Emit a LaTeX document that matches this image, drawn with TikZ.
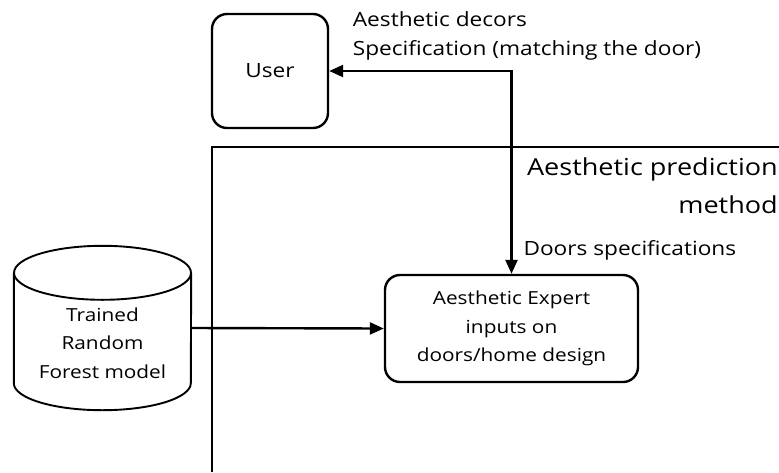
\documentclass[tikz,border=0pt]{standalone}
\usepackage{fontspec}
\setmainfont{Open Sans}[FakeStretch=1.156]
\usetikzlibrary{arrows.meta}
\begin{document}
\begin{tikzpicture}[x=1pt,y=-1pt,
  line/.style={line width=2.4pt},
  tipped/.style={{Triangle[length=14pt,width=12pt]}-{Triangle[length=14pt,width=12pt]}},
  arrowto/.style={-{Triangle[length=14pt,width=12pt]}},
  box/.style={draw, line width=2.4pt, rounded corners=15pt, inner sep=0pt, align=center},
  lbl/.style={inner sep=0pt, font=\fontsize{19.6}{28}\selectfont},
  biglbl/.style={inner sep=0pt, font=\fontsize{23.4}{38}\selectfont},
  boxtxt/.style={font=\fontsize{18}{28.5}\selectfont}]
\useasboundingbox (0,0) rectangle (779,472);
\clip (0,0) rectangle (779,472);

% outer frame of the prediction method (runs past the page edge)
\coordinate (frametl) at (212,147);
\draw[line] (779,147) -- (frametl) -- (212,472);

% boxes
\node[box, minimum width=116pt, minimum height=114pt, font=\fontsize{19.6}{28}\selectfont] (user) at (270,71) {User};
\node[box, minimum width=253pt, minimum height=107pt, boxtxt] (expert) at (511.5,328.5)
  {Aesthetic Expert\\inputs on\\doors/home design};

% database cylinder
\node[minimum width=177pt, minimum height=164pt, inner sep=0pt] (forest) at (102.5,328) {};
\draw[line width=1.9pt] ([yshift=-27pt]forest.north) ellipse [x radius=88.5pt, y radius=27pt];
\draw[line width=1.9pt] ([yshift=-27pt]forest.north west) -- ([yshift=27pt]forest.south west)
  arc[start angle=180, end angle=360, x radius=88.5pt, y radius=27pt]
  -- ([yshift=-27pt]forest.north east);
\node[boxtxt, align=center, inner sep=0pt] (forestlabel) at (102.5,343) {Trained\\Random\\Forest model};

% connectors
\coordinate (turn) at (expert.north |- user.east);
\draw[line, tipped] (user.east) -- (turn) -- (expert.north);
\draw[line, arrowto] (forest.east) -- (expert.west);

% labels
\node[lbl, anchor=base west] (decor1) at (352.7,26.7) {Aesthetic decors};
\node[lbl, anchor=base west] (decor2) at (352.7,55) {Specification (matching the door)};
\node[lbl, anchor=base west] (doorspec) at (523.3,255) {Doors specifications};
\node[biglbl, anchor=base east] (pred1) at (778,175) {Aesthetic prediction};
\node[biglbl, anchor=base east] (pred2) at (778,213) {method};
\end{tikzpicture}
\end{document}
